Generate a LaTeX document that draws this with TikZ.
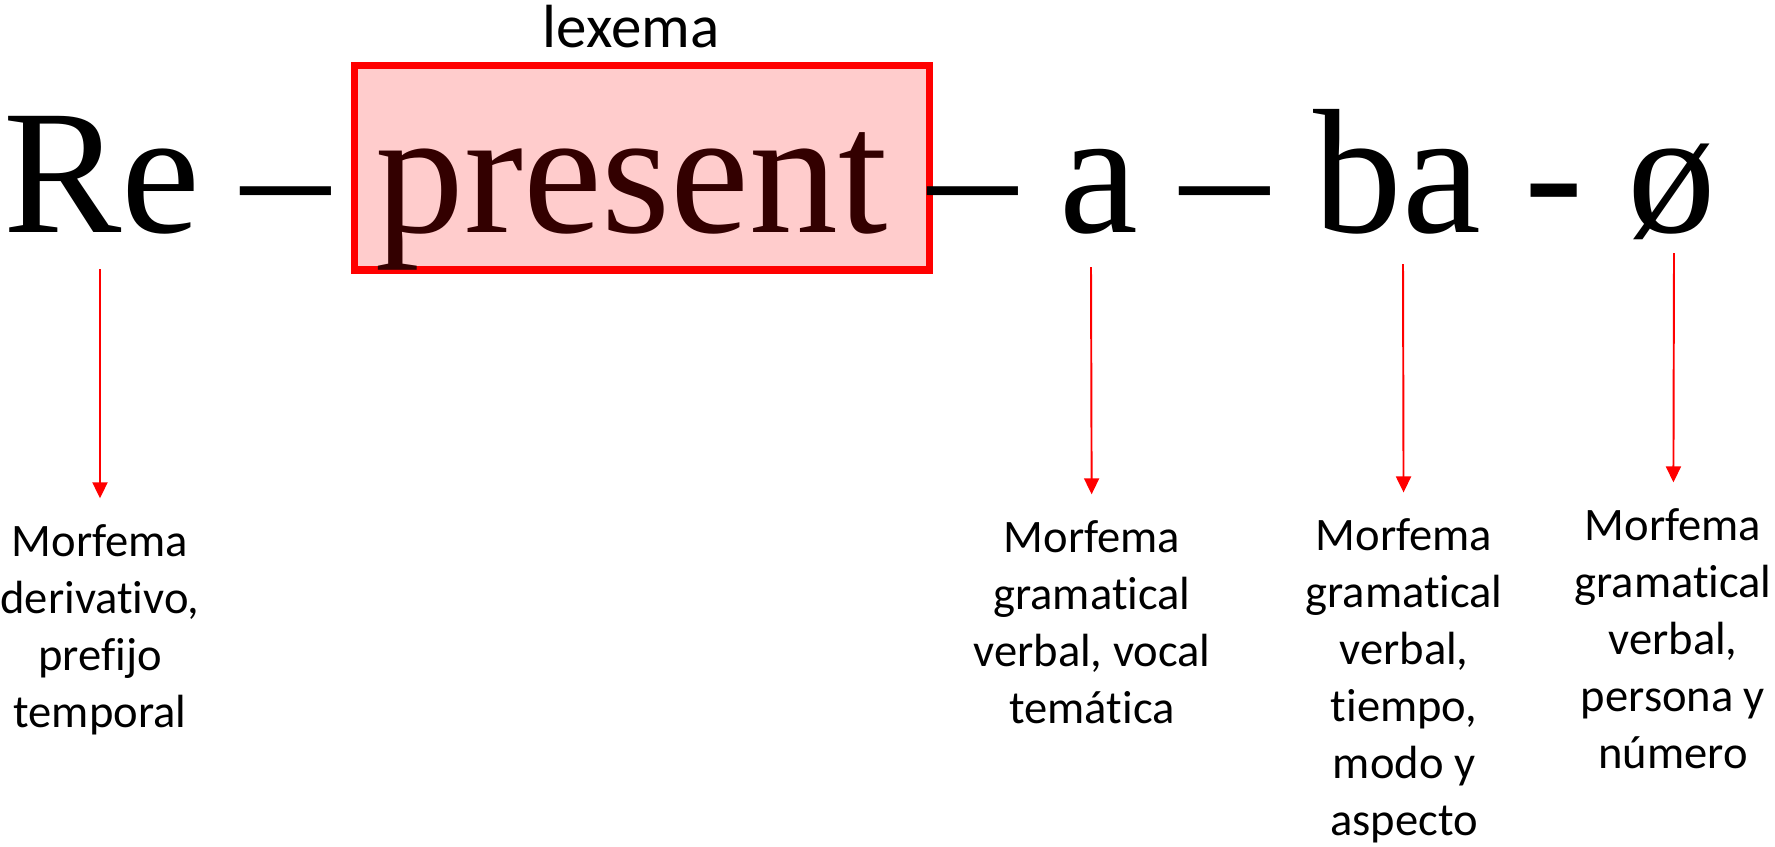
\documentclass[tikz,border=0pt]{standalone}
\usepackage{fontspec}
\setmainfont{Liberation Serif}
\newfontfamily\calibri{Carlito}[Ligatures=NoCommon]
\usetikzlibrary{arrows.meta}
\definecolor{lexred}{RGB}{255,0,0}
\definecolor{lexpink}{RGB}{255,204,204}
\definecolor{presentred}{RGB}{51,0,0}
\newcommand\bigfont{\fontsize{101pt}{101pt}\selectfont}
\newcommand\glosafont{\calibri\fontsize{26.5pt}{32.4pt}\selectfont}

\begin{document}
\begin{tikzpicture}[x=0.02cm, y=-0.02cm,
    morf/.style={anchor=base west, inner sep=0pt, font=\bigfont},
    lexbox/.style={draw=lexred, fill=lexpink, line width=4pt, minimum width=11.52cm, minimum height=4.1cm, inner sep=0pt},
    glosa/.style={anchor=base, align=center, inner sep=0pt, outer sep=0.52cm, font=\glosafont},
    morfarrow/.style={draw=lexred, line width=1.1pt, -{Triangle[width=0.3cm,length=0.32cm]}}]
    \useasboundingbox (0,0) rectangle (1775,846);

    % lexeme box
    \node[lexbox] (lex) at (642,167.5) {};
    \node[anchor=base, inner sep=0pt, font=\calibri\fontsize{34.7pt}{40pt}\selectfont] (lexema) at (631,47) {lexema};

    % the word, morph by morph
    \node[morf] (re) at (3,232) {Re};
    \node[morf] (d1) at (241,232) {–};
    \node[morf, text=presentred] (present) at (375,232) {present};
    \node[morf] (d2) at (928,232) {–};
    \node[morf] (a) at (1059,232) {a};
    \node[morf] (d3) at (1180,232) {–};
    \node[morf] (ba) at (1313,232) {ba};
    \node[morf] (d4) at (1524,232) {-};
    \node[morf] (zero) at (1627,232) {ø};

    % glosses (base = last line)
    \node[glosa] (g1) at (100,727) {Morfema\\derivativo,\\prefijo\\temporal};
    \node[glosa] (g2) at (1092,723) {Morfema\\gramatical\\verbal, vocal\\temática};
    \node[glosa] (g3) at (1404,835) {Morfema\\gramatical\\verbal,\\tiempo,\\modo y\\aspecto};
    \node[glosa] (g4) at (1673,768) {Morfema\\gramatical\\verbal,\\persona y\\número};

    % arrows
    \coordinate (s1) at (100,269);
    \coordinate (s2) at (1091,267);
    \coordinate (s3) at (1403,264);
    \coordinate (s4) at (1674,253);
    \foreach \i in {1,2,3,4}
        \draw[morfarrow] (s\i) -- (g\i);
\end{tikzpicture}
\end{document}
